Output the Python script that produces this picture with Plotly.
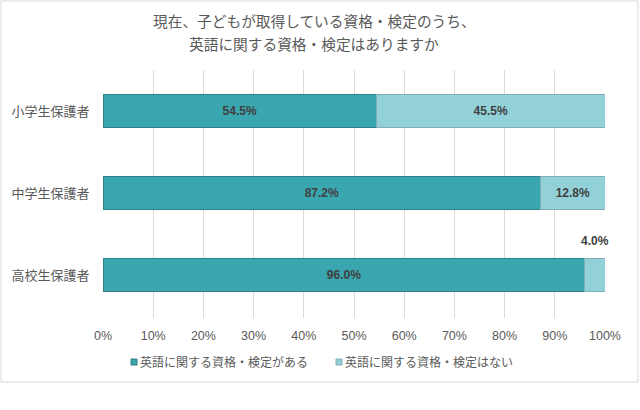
import plotly.graph_objects as go

categories = ["小学生保護者", "中学生保護者", "高校生保護者"]
series_names = ["英語に関する資格・検定がある", "英語に関する資格・検定はない"]
yes_vals = [54.5, 87.2, 96.0]
no_vals = [45.5, 12.8, 4.0]
x_ticks = [0, 10, 20, 30, 40, 50, 60, 70, 80, 90, 100]
title_lines = ["現在、子どもが取得している資格・検定のうち、", "英語に関する資格・検定はありますか"]

FONT = "Liberation Sans, Noto Sans CJK JP, sans-serif"
C1 = "#3AA6AF"
C2 = "#93D1D8"
EDGE1 = "#2E7F86"
EDGE2 = "#7FAFB4"
TXT = "#595959"

W, H = 640, 410
L, R, T, B = 103, 35, 70, 92
pw = W - L - R
ph = H - T - B


def px_x(p):
    return (p - L) / pw


def px_y(p):
    return (H - B - p) / ph


fig = go.Figure()
fig.add_trace(go.Bar(
    y=categories, x=yes_vals, orientation="h", name=series_names[0],
    marker=dict(color=C1, line=dict(color=EDGE1, width=1)),
    text=[f"{v:.1f}%" for v in yes_vals], textposition="inside",
    insidetextanchor="middle",
    textfont=dict(family=FONT, size=12, color="#404040", weight="bold"),
    width=0.41, showlegend=False,
))
no_text = [f"{v:.1f}%" if v >= 8 else "" for v in no_vals]
fig.add_trace(go.Bar(
    y=categories, x=no_vals, orientation="h", name=series_names[1],
    marker=dict(color=C2, line=dict(color=EDGE2, width=1)),
    text=no_text, textposition="inside", insidetextanchor="middle",
    textfont=dict(family=FONT, size=12, color="#404040", weight="bold"),
    width=0.41, showlegend=False,
))
for i, v in enumerate(no_vals):
    if v < 8:
        fig.add_annotation(
            x=yes_vals[i] + v / 2, y=categories[i], xref="x", yref="y",
            text=f"{v:.1f}%", showarrow=False, yshift=34,
            font=dict(family=FONT, size=12, color="#404040", weight="bold"),
        )

# title lines
for line, py in zip(title_lines, [22, 45]):
    fig.add_annotation(x=px_x(314), y=px_y(py), xref="paper", yref="paper",
                       text=line, showarrow=False, xanchor="center", yanchor="middle",
                       font=dict(family=FONT, size=14.7, color=TXT))

# legend: small square swatch + label
colors = [C1, C2]
edges = [EDGE1, EDGE2]
leg_x = [131, 336]
for name, c, e, lx in zip(series_names, colors, edges, leg_x):
    fig.add_shape(type="rect", xref="paper", yref="paper",
                  x0=px_x(lx), x1=px_x(lx + 6), y0=px_y(365), y1=px_y(359),
                  fillcolor=c, line=dict(color=e, width=1))
    fig.add_annotation(
        x=px_x(lx + 7), y=px_y(362), xref="paper", yref="paper",
        text=name, showarrow=False, xanchor="left", yanchor="middle",
        font=dict(family=FONT, size=12, color=TXT))

fig.add_shape(type="rect", xref="paper", yref="paper",
              x0=px_x(1), x1=px_x(638), y0=px_y(382), y1=px_y(1),
              line=dict(color="#D9D9D9", width=1), fillcolor="rgba(0,0,0,0)",
              layer="below")

fig.update_layout(
    width=W, height=H,
    margin=dict(l=L, r=R, t=T, b=B),
    barmode="stack",
    paper_bgcolor="white", plot_bgcolor="white",
    font=dict(family=FONT, color=TXT),
    xaxis=dict(range=[0, 100], tickvals=x_ticks,
               ticktext=[f"{t}%" for t in x_ticks],
               showgrid=True, gridcolor="#D9D9D9", gridwidth=1,
               zeroline=False, showline=False,
               ticks="outside", ticklen=6, tickcolor="white",
               tickfont=dict(family=FONT, size=12.5, color=TXT)),
    yaxis=dict(autorange="reversed", showgrid=False, zeroline=False,
               ticks="outside", ticklen=10, tickcolor="white",
               tickfont=dict(family=FONT, size=13, color=TXT)),
    showlegend=False,
)

fig.write_html("out.html")
